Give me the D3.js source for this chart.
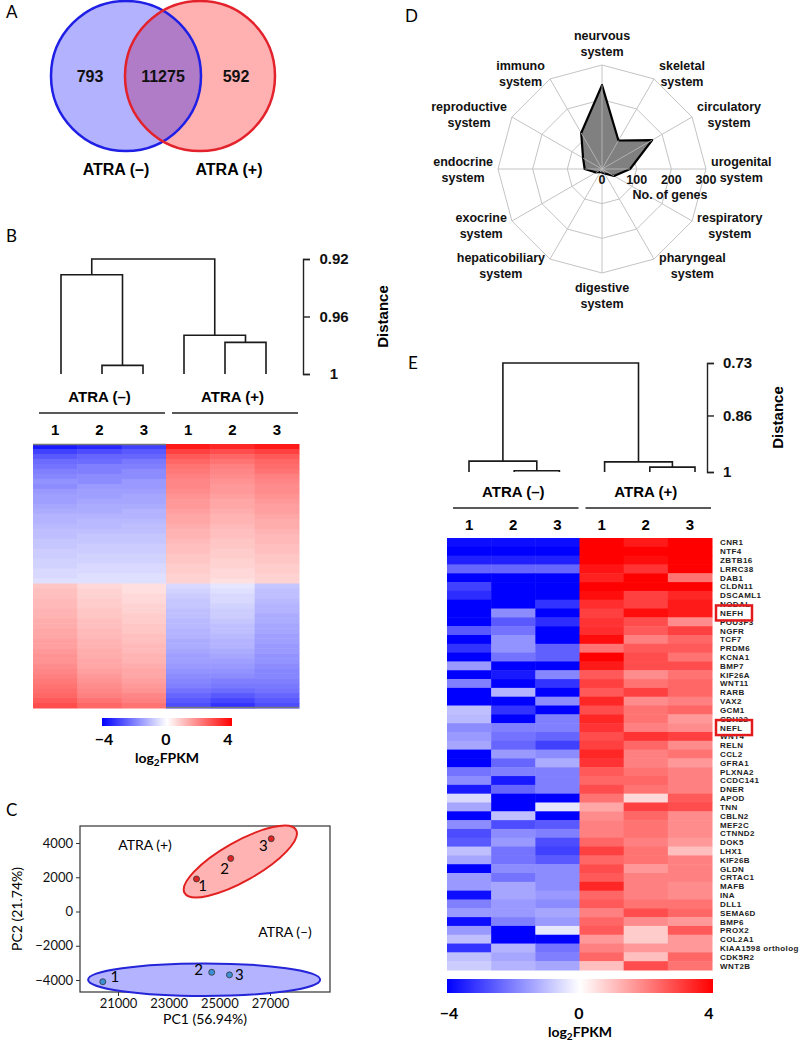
<!DOCTYPE html>
<html>
<head>
<meta charset="utf-8">
<script src="https://cdn.jsdelivr.net/npm/d3@7"></script>
<style>
body{margin:0;background:#fff;}
svg{font-family:"Liberation Sans",Arial,sans-serif;}
</style>
</head>
<body>
<svg id="fig" width="800" height="1051"></svg>
<script>
// ---- data ----
var vennCounts=[793,11275,592];
var groups=["ATRA (–)","ATRA (+)"];
var samples=["1","2","3","1","2","3"];

// dendrograms: [nodeA,nodeB,distance]; nodes 0-5 are samples, 6+ are earlier merges
var dendroB=[[1,2,0.994],[4,5,0.978],[0,6,0.931],[3,7,0.973],[8,9,0.92]];
var dendroE=[[1,2,0.997],[4,5,0.988],[0,6,0.973],[3,7,0.975],[8,9,0.73]];
var distTicksB=[0.92,0.96,1];
var distTicksE=[0.73,0.86,1];

// panel B heatmap, log2FPKM per row (ATRA- 1,2,3 / ATRA+ 1,2,3)
var heatB=[
[-3.6,-3.4,-3.0,3.6,3.4,3.6],[-3.0,-2.8,-2.6,3.0,2.8,3.0],[-2.6,-2.4,-2.4,2.6,2.4,2.6],
[-2.3,-2.3,-2.1,2.4,2.2,2.4],[-2.2,-2.0,-2.0,2.2,2.0,2.3],[-2.0,-2.0,-1.8,2.1,1.9,2.2],
[-1.9,-1.8,-1.8,2.0,1.8,2.0],[-1.7,-1.8,-1.6,1.9,1.7,1.9],[-1.8,-1.6,-1.6,1.9,1.6,1.8],
[-1.6,-1.5,-1.5,1.8,1.6,1.8],[-1.5,-1.5,-1.4,1.7,1.5,1.7],[-1.5,-1.4,-1.4,1.6,1.4,1.6],
[-1.4,-1.3,-1.3,1.6,1.4,1.5],[-1.3,-1.3,-1.2,1.5,1.3,1.5],[-1.2,-1.2,-1.2,1.4,1.2,1.4],
[-1.2,-1.1,-1.1,1.4,1.2,1.3],[-1.1,-1.1,-1.0,1.3,1.1,1.3],[-1.0,-1.0,-1.0,1.2,1.0,1.2],
[-1.0,-0.9,-0.9,1.2,1.0,1.1],[-0.9,-0.9,-0.9,1.1,0.9,1.1],[-0.9,-0.8,-0.8,1.0,0.9,1.0],
[-0.8,-0.8,-0.8,1.0,0.8,1.0],[-0.8,-0.7,-0.7,0.9,0.8,0.9],[-0.7,-0.7,-0.7,0.9,0.7,0.9],
[-0.7,-0.6,-0.6,0.8,0.7,0.8],[-0.6,-0.6,-0.6,0.8,0.6,0.8],[-0.6,-0.5,-0.5,0.7,0.6,0.7],
[-0.5,-0.5,-0.5,0.7,0.5,0.7],
[0.9,0.6,0.5,-0.6,-0.4,-0.9],[1.0,0.7,0.5,-0.7,-0.5,-1.0],[1.0,0.7,0.6,-0.8,-0.6,-1.0],
[1.1,0.8,0.6,-0.9,-0.6,-1.1],[1.1,0.8,0.7,-0.9,-0.7,-1.2],[1.2,0.9,0.7,-1.0,-0.8,-1.2],
[1.2,0.9,0.8,-1.0,-0.8,-1.3],[1.3,1.0,0.8,-1.1,-0.9,-1.3],[1.3,1.0,0.9,-1.1,-1.0,-1.4],
[1.4,1.1,0.9,-1.2,-1.0,-1.4],[1.4,1.1,1.0,-1.2,-1.1,-1.5],[1.5,1.2,1.0,-1.3,-1.2,-1.5],
[1.5,1.2,1.1,-1.3,-1.2,-1.6],[1.6,1.3,1.1,-1.4,-1.3,-1.6],[1.7,1.3,1.2,-1.5,-1.4,-1.7],
[1.7,1.4,1.2,-1.5,-1.5,-1.7],[1.8,1.4,1.3,-1.6,-1.6,-1.8],[1.9,1.5,1.4,-1.7,-1.7,-1.9],
[2.0,1.6,1.4,-1.8,-1.8,-1.9],[2.1,1.7,1.5,-1.9,-2.0,-2.0],[2.2,1.8,1.6,-2.0,-2.1,-2.1],
[2.3,1.9,1.7,-2.2,-2.3,-2.2],[2.4,2.0,1.9,-2.4,-2.6,-2.4],[2.6,2.2,2.0,-2.6,-2.9,-2.6],
[2.8,2.4,2.2,-2.8,-3.2,-2.8]
];

// panel C PCA
var pcaGroups=["ATRA (+)","ATRA (–)"];
var pcaPoints=[
 {g:0,s:"1",pc1:24100,pc2:1900},{g:0,s:"2",pc1:25450,pc2:3100},{g:0,s:"3",pc1:27050,pc2:4250},
 {g:1,s:"1",pc1:20400,pc2:-4100},{g:1,s:"2",pc1:24700,pc2:-3550},{g:1,s:"3",pc1:25400,pc2:-3700}
];
var pcaEllipses=[ // center, end of major axis (data units), minor half width in data y units
 {g:0,c:[25830,2920],end:[28030,4760],minor:1150},
 {g:1,c:[24400,-3980],end:[28980,-3980],minor:950}
];
var pc1Ticks=[21000,23000,25000,27000];
var pc2Ticks=[-4000,-2000,0,2000,4000];

// panel D radar
var systems=["neurvous system","skeletal system","circulatory system","urogenital system",
 "respiratory system","pharyngeal system","digestive system","hepaticobiliary system",
 "exocrine system","endocrine system","reproductive system","immuno system"];
var geneCounts=[242,95,167,81,40,15,10,10,20,50,63,120];
var radarTicks=[0,100,200,300];

// panel E heatmap
var genesE=["CNR1","NTF4","ZBTB16","LRRC38","DAB1","CLDN11","DSCAML1","NODAL","NEFH","POU3F3",
 "NGFR","TCF7","PRDM6","KCNA1","BMP7","KIF26A","WNT11","RARB","VAX2","GCM1","CDH22","NEFL","WNT4",
 "RELN","CCL2","GFRA1","PLXNA2","CCDC141","DNER","APOD","TNN","CBLN2","MEF2C","CTNND2","DOK5",
 "LHX1","KIF26B","GLDN","CRTAC1","MAFB","INA","DLL1","SEMA6D","BMP6","PROX2","COL2A1",
 "KIAA1598 ortholog","CDK5R2","WNT2B"];
var highlightE=["NEFH","NEFL"];
var heatE=[
[-3.8,-3.8,-3.8,4,3.6,4],[-4,-4,-4,4,4,4],[-3.5,-3.5,-3.5,4,3.8,4],[-2.4,-2.4,-2.4,3.7,3.2,4],
[-4,-4,-4,3.5,4,2.2],[-3.0,-4,-4,4,4,4],[-3.3,-4,-4,3.8,3.0,3.4],[-4,-4,-3.2,3.3,3.0,3.6],
[-4,-1.8,-4,3.0,3.8,3.6],[-4,-2.6,-3.3,3.2,2.8,1.8],[-2.6,-2.2,-4,3.3,2.6,3.0],[-4,-1.7,-4,3.8,2.0,2.4],
[-3.2,-1.7,-2.5,2.2,2.6,2.6],[-4,-2.2,-2.5,4,2.8,2.2],[-1.6,-4,-4,3.6,2.8,2.8],[-4,-3.6,-1.9,2.6,1.8,2.2],
[-2.0,-4,-3.2,3.0,2.2,2.4],[-4,-1.2,-4,2.6,3.0,2.4],[-4,-4,-1.8,3.4,1.8,2.0],[-1.0,-3.2,-4,2.8,2.2,2.4],
[-1.1,-4,-2.0,3.4,2.2,1.6],[-1.8,-2.0,-2.0,3.2,2.0,1.8],[-1.6,-2.2,-2.4,2.8,3.2,3.0],[-1.4,-2.4,-3.0,3.0,2.4,1.8],
[-4,-1.6,-1.8,3.4,2.0,2.2],[-4,-2.4,-1.3,3.2,2.0,1.6],[-2.2,-2.0,-2.0,2.6,2.2,2.0],[-1.8,-3.6,-2.0,2.4,2.4,2.0],
[-3.6,-2.4,-2.0,2.8,2.2,2.0],[-0.6,-4,-4,2.2,0.6,2.6],[-1.4,-4,-0.4,1.4,3.0,2.8],[-4,-1.0,-4,1.8,2.4,1.8],
[-1.8,-2.8,-2.6,2.0,2.2,1.8],[-2.8,-1.8,-2.0,2.0,2.2,1.8],[-2.6,-1.6,-2.8,2.4,2.0,1.6],[-1.0,-2.2,-3.0,3.0,2.2,1.0],
[-1.4,-2.2,-2.6,2.4,2.2,2.0],[-4,-1.8,-1.8,2.8,1.6,2.0],[-1.6,-2.2,-1.8,2.6,2.0,2.0],[-1.6,-1.4,-1.8,3.4,2.0,1.8],
[-3.8,-1.4,-1.6,2.4,2.0,1.8],[-2.0,-1.6,-1.8,2.6,2.2,2.2],[-1.6,-1.6,-1.4,2.0,2.8,2.4],[-3.8,-2.0,-1.6,2.4,1.8,1.6],
[-1.6,-4,-0.4,2.6,0.8,2.6],[-1.0,-4,-4,1.6,0.8,1.6],[-3.2,-1.2,-2.2,2.0,1.6,1.6],[-1.0,-1.4,-2.0,2.4,1.0,2.4],
[-0.8,-1.2,-1.4,1.0,2.8,2.2]
];
var colorTicks=[-4,0,4];

// ---- drawing ----
var svg=d3.select("#fig");
var heatColor=d3.scaleLinear().domain([-4,0,4]).range(["#0000ff","#ffffff","#ff0000"]).clamp(true);
var calibri='Lato,"Open Sans",sans-serif';

function panelLabel(t,x,y){
  svg.append("text").attr("x",x).attr("y",y).attr("font-family",calibri).attr("font-size",17).text(t);
}

function drawDendro(g,leafX,merges,y){
  var nodes=leafX.map(function(x){return {x:x,y:y(1)};});
  merges.forEach(function(m){
    var a=nodes[m[0]],b=nodes[m[1]],h=y(m[2]);
    nodes.push({x:(a.x+b.x)/2,y:h});
    g.append("path").attr("d","M"+a.x+","+a.y+"V"+h+"H"+b.x+"V"+b.y)
      .attr("fill","none").attr("stroke","#1a1a1a").attr("stroke-width",1.6);
  });
}

function colorBar(id,x0,x1,y0,h,labelY,titleY){
  var grad=svg.append("defs").append("linearGradient").attr("id",id);
  grad.selectAll("stop").data([-4,-2,0,2,4]).enter().append("stop")
    .attr("offset",function(d){return ((d+4)/8*100)+"%";})
    .attr("stop-color",function(d){return heatColor(d);});
  svg.append("rect").attr("x",x0).attr("y",y0).attr("width",x1-x0).attr("height",h).attr("fill","url(#"+id+")");
  var s=d3.scaleLinear().domain([-4,4]).range([x0+2,x1-4]);
  svg.selectAll(null).data(colorTicks).enter().append("text")
    .attr("x",function(d){return s(d);}).attr("y",labelY).attr("text-anchor","middle")
    .attr("font-family",calibri).attr("font-weight","bold").attr("font-size",16)
    .text(function(d){return d<0?"−"+Math.abs(d):d;});
  var t=svg.append("text").attr("x",(x0+x1)/2).attr("y",titleY).attr("text-anchor","middle")
    .attr("font-family",calibri).attr("font-weight","bold").attr("font-size",14);
  t.append("tspan").text("log");
  t.append("tspan").attr("font-size",10).attr("dy",3).text("2");
  t.append("tspan").attr("dy",-3).text("FPKM");
}

function groupHeader(xCol,y0){
  // group names, lines and sample numbers above a heatmap
  var bw=xCol.bandwidth();
  groups.forEach(function(gname,gi){
    var xa=xCol(gi*3),xb=xCol(gi*3+2)+bw;
    svg.append("text").attr("x",(xa+xb)/2).attr("y",y0).attr("text-anchor","middle")
      .attr("font-weight","bold").attr("font-size",15).text(gname);
    svg.append("line").attr("x1",xa+6).attr("x2",xb-1).attr("y1",y0+11).attr("y2",y0+11)
      .attr("stroke","#222").attr("stroke-width",1.5);
  });
  svg.selectAll(null).data(samples).enter().append("text")
    .attr("x",function(d,i){return xCol(i)+bw/2;}).attr("y",y0+33).attr("text-anchor","middle")
    .attr("font-weight","bold").attr("font-size",15).text(function(d){return d;});
}

function distAxis(x,y,ticks,labelDx,anchor,titleX){
  var g=svg.append("g").attr("transform","translate("+x+",0)");
  g.call(d3.axisRight(y).tickValues(ticks).tickSize(7).tickFormat(function(d){return d;}));
  g.select(".domain").attr("stroke","#222").attr("stroke-width",1.4);
  g.selectAll(".tick line").attr("stroke","#222").attr("stroke-width",1.4);
  g.selectAll(".tick text").attr("x",labelDx).attr("text-anchor",anchor)
    .attr("font-family","Liberation Sans,Arial,sans-serif").attr("font-weight","bold")
    .attr("font-size",15).attr("fill","#111");
  var ym=(y.range()[0]+y.range()[1])/2;
  svg.append("text").attr("transform","translate("+titleX+","+ym+") rotate(-90)")
    .attr("text-anchor","middle").attr("dy","0.35em").attr("font-weight","bold").attr("font-size",15)
    .text("Distance");
}

// ---- A: Venn ----
panelLabel("A",6,18);
var vennR=75,vennY=76,vennX=[126,200];
var defs=svg.append("defs");
defs.append("clipPath").attr("id","clipBlue").append("circle").attr("cx",vennX[0]).attr("cy",vennY).attr("r",vennR);
svg.append("circle").attr("cx",vennX[0]).attr("cy",vennY).attr("r",vennR).attr("fill","#b2b2ff");
svg.append("circle").attr("cx",vennX[1]).attr("cy",vennY).attr("r",vennR).attr("fill","#ffb0b0");
svg.append("circle").attr("cx",vennX[1]).attr("cy",vennY).attr("r",vennR).attr("fill","#b07cc8").attr("clip-path","url(#clipBlue)");
svg.append("circle").attr("cx",vennX[0]).attr("cy",vennY).attr("r",vennR).attr("fill","none").attr("stroke","#1f1fe6").attr("stroke-width",2.5);
svg.append("circle").attr("cx",vennX[1]).attr("cy",vennY).attr("r",vennR).attr("fill","none").attr("stroke","#e3222c").attr("stroke-width",2.5);
var vennLabelX=d3.scalePoint().domain([0,1,2]).range([90,236]);
svg.selectAll(null).data(vennCounts).enter().append("text")
  .attr("x",function(d,i){return vennLabelX(i);}).attr("y",vennY+6).attr("text-anchor","middle")
  .attr("font-weight","bold").attr("font-size",16).attr("fill","#111").text(function(d){return d;});
svg.selectAll(null).data(groups).enter().append("text")
  .attr("x",function(d,i){return [116,229][i];}).attr("y",175).attr("text-anchor","middle")
  .attr("font-weight","bold").attr("font-size",16).text(function(d){return d;});

// ---- B: dendrogram + heatmap ----
panelLabel("B",6,242);
var yDistB=d3.scaleLinear().domain([0.92,1]).range([259,374]);
var leafB=d3.scalePoint().domain(d3.range(6)).range([61,266]);
drawDendro(svg.append("g"),d3.range(6).map(function(i){return leafB(i);}),dendroB,yDistB);
distAxis(303,yDistB,distTicksB,31,"middle",383);
var xB=d3.scaleBand().domain(d3.range(6)).range([33,299]);
var yB=d3.scaleBand().domain(d3.range(heatB.length)).range([444,708]);
groupHeader(xB,402);
var gB=svg.append("g");
heatB.forEach(function(row,ri){
  gB.selectAll(null).data(row).enter().append("rect")
    .attr("x",function(d,ci){return xB(ci);}).attr("y",yB(ri))
    .attr("width",xB.bandwidth()+0.5).attr("height",yB.bandwidth()+0.5)
    .attr("fill",function(d){return heatColor(d);});
});
svg.append("line").attr("x1",33).attr("x2",166).attr("y1",444.5).attr("y2",444.5).attr("stroke","#777").attr("stroke-width",1.5);
svg.append("line").attr("x1",166).attr("x2",299).attr("y1",707.5).attr("y2",707.5).attr("stroke","#777").attr("stroke-width",1.5);
colorBar("gradB",102,232,718,8,745,763);

// ---- C: PCA ----
panelLabel("C",6,816);
var xC=d3.scaleLinear().domain([19500,29370]).range([80,330]);
var yC=d3.scaleLinear().domain([-4700,4993]).range([992,826]);
svg.append("rect").attr("x",80).attr("y",826).attr("width",250).attr("height",166)
  .attr("fill","none").attr("stroke","#333").attr("stroke-width",1.2);
var axC=svg.append("g").attr("transform","translate(0,992)")
  .call(d3.axisBottom(xC).tickValues(pc1Ticks).tickSize(4).tickFormat(d3.format("d")));
var ayC=svg.append("g").attr("transform","translate(80,0)")
  .call(d3.axisLeft(yC).tickValues(pc2Ticks).tickSize(4).tickFormat(d3.format("d")));
[axC,ayC].forEach(function(a){
  a.select(".domain").remove();
  a.selectAll(".tick line").attr("stroke","#333");
  a.selectAll(".tick text").attr("font-family",calibri).attr("font-size",13).attr("fill","#111");
});
svg.append("text").attr("x",205).attr("y",1024).attr("text-anchor","middle")
  .attr("font-family",calibri).attr("font-size",14).text("PC1 (56.94%)");
svg.append("text").attr("transform","translate(22,909) rotate(-90)").attr("text-anchor","middle")
  .attr("font-family",calibri).attr("font-size",14).text("PC2 (21.74%)");
var pcaFill=["#ffb3b3","#b3b3ff"],pcaStroke=["#e22020","#2424d8"],dotFill=["#e02424","#3d8fd6"];
pcaEllipses.forEach(function(e){
  var cx=xC(e.c[0]),cy=yC(e.c[1]),ex=xC(e.end[0]),ey=yC(e.end[1]);
  var rx=Math.hypot(ex-cx,ey-cy),ang=Math.atan2(ey-cy,ex-cx)*180/Math.PI;
  var ry=Math.abs(yC(0)-yC(e.minor));
  svg.append("ellipse").attr("transform","translate("+cx+","+cy+") rotate("+ang+")")
    .attr("rx",rx).attr("ry",ry).attr("fill",pcaFill[e.g]).attr("stroke",pcaStroke[e.g]).attr("stroke-width",2);
});
var pcaLabelOff=[[6,12],[-6,16],[-8,12],[12,0],[-13,3],[10,5]];
svg.selectAll(null).data(pcaPoints).enter().append("circle")
  .attr("cx",function(d){return xC(d.pc1);}).attr("cy",function(d){return yC(d.pc2);}).attr("r",3)
  .attr("fill",function(d){return dotFill[d.g];}).attr("stroke","#333").attr("stroke-width",0.8);
svg.selectAll(null).data(pcaPoints).enter().append("text")
  .attr("x",function(d,i){return xC(d.pc1)+pcaLabelOff[i][0];})
  .attr("y",function(d,i){return yC(d.pc2)+pcaLabelOff[i][1];})
  .attr("text-anchor","middle").attr("font-family",calibri).attr("font-size",15).text(function(d){return d.s;});
svg.append("text").attr("x",145).attr("y",850).attr("text-anchor","middle").attr("font-family",calibri).attr("font-size",14).text(pcaGroups[0]);
svg.append("text").attr("x",285).attr("y",937).attr("text-anchor","middle").attr("font-family",calibri).attr("font-size",14).text(pcaGroups[1]);

// ---- D: radar ----
panelLabel("D",405,22);
var rcx=602,rcy=169;
var rD=d3.scaleLinear().domain([0,300]).range([0,104]);
var angD=function(i){return i*2*Math.PI/systems.length;};
var ptD=function(i,v){return [rcx+rD(v)*Math.sin(angD(i)),rcy-rD(v)*Math.cos(angD(i))];};
var gD=svg.append("g");
radarTicks.slice(1).forEach(function(t){
  gD.append("polygon").attr("points",systems.map(function(s,i){return ptD(i,t).join(",");}).join(" "))
    .attr("fill","none").attr("stroke","#c4c4c4").attr("stroke-width",1);
});
systems.forEach(function(s,i){
  var p=ptD(i,300);
  gD.append("line").attr("x1",rcx).attr("y1",rcy).attr("x2",p[0]).attr("y2",p[1]).attr("stroke","#c4c4c4");
});
gD.append("polygon").attr("points",geneCounts.map(function(v,i){return ptD(i,v).join(",");}).join(" "))
  .attr("fill","#808080").attr("stroke","#000").attr("stroke-width",2.2).attr("stroke-linejoin","round");
// spokes over fill
systems.forEach(function(s,i){
  var p=ptD(i,geneCounts[i]);
  gD.append("line").attr("x1",rcx).attr("y1",rcy).attr("x2",p[0]).attr("y2",p[1]).attr("stroke","#bdbdbd").attr("stroke-width",0.8);
});
gD.selectAll(null).data(radarTicks).enter().append("text")
  .attr("x",function(d){return rcx+rD(d);}).attr("y",rcy+15).attr("text-anchor","middle")
  .attr("font-size",12.5).attr("font-weight","bold").attr("fill","#111").text(function(d){return d;});
gD.append("text").attr("x",670).attr("y",199).attr("text-anchor","middle").attr("font-size",12.5)
  .attr("font-weight","bold").attr("fill","#111").text("No. of genes");
systems.forEach(function(s,i){
  var a=angD(i),p=ptD(i,300),lines=s.split(" ");
  var t=gD.append("text").attr("font-size",12.5).attr("font-weight","bold").attr("fill","#111").attr("text-anchor","middle");
  lines.forEach(function(l,k){t.append("tspan").attr("x",0).attr("dy",k?16:0).text(l);});
  var w=t.node().getBBox().width;
  var sx=Math.sin(a),cy;
  var lx;
  if(Math.abs(sx)<0.01){
    lx=p[0];
    cy=Math.cos(a)>0?p[1]-22:p[1]+22;
  } else {
    lx=p[0]+(sx>0?1:-1)*(5+w/2);
    cy=p[1]-Math.cos(a)*7;
  }
  t.attr("transform","translate("+lx+","+(cy-8+5)+")");
});

// ---- E: dendrogram + heatmap ----
panelLabel("E",408,369);
var yDistE=d3.scaleLinear().domain([0.73,1]).range([363,472]);
var leafE=d3.scalePoint().domain(d3.range(6)).range([469,695]);
drawDendro(svg.append("g"),d3.range(6).map(function(i){return leafE(i);}),dendroE,yDistE);
distAxis(707,yDistE,distTicksE,16,"start",778);
var xE=d3.scaleBand().domain(d3.range(6)).range([447,712]);
var yE=d3.scaleBand().domain(genesE).range([538,970]);
groupHeader(xE,497);
var gE=svg.append("g");
heatE.forEach(function(row,ri){
  gE.selectAll(null).data(row).enter().append("rect")
    .attr("x",function(d,ci){return xE(ci);}).attr("y",yE(genesE[ri]))
    .attr("width",xE.bandwidth()+0.5).attr("height",yE.bandwidth()+0.5)
    .attr("fill",function(d){return heatColor(d);});
});
svg.selectAll(null).data(genesE).enter().append("text")
  .attr("x",720).attr("y",function(d){return yE(d)+yE.bandwidth()/2+3;})
  .attr("font-size",8).attr("font-weight","bold").attr("letter-spacing",0.4).attr("fill","#222")
  .text(function(d){return d;});
svg.selectAll(null).data(highlightE).enter().append("rect")
  .attr("x",716).attr("y",function(d){return yE(d)+yE.bandwidth()/2-7.5;})
  .attr("width",36).attr("height",15).attr("fill","none").attr("stroke","#e31a1c").attr("stroke-width",2.5);
colorBar("gradE",447,713,979,14,1019,1037);
</script>
</body>
</html>
